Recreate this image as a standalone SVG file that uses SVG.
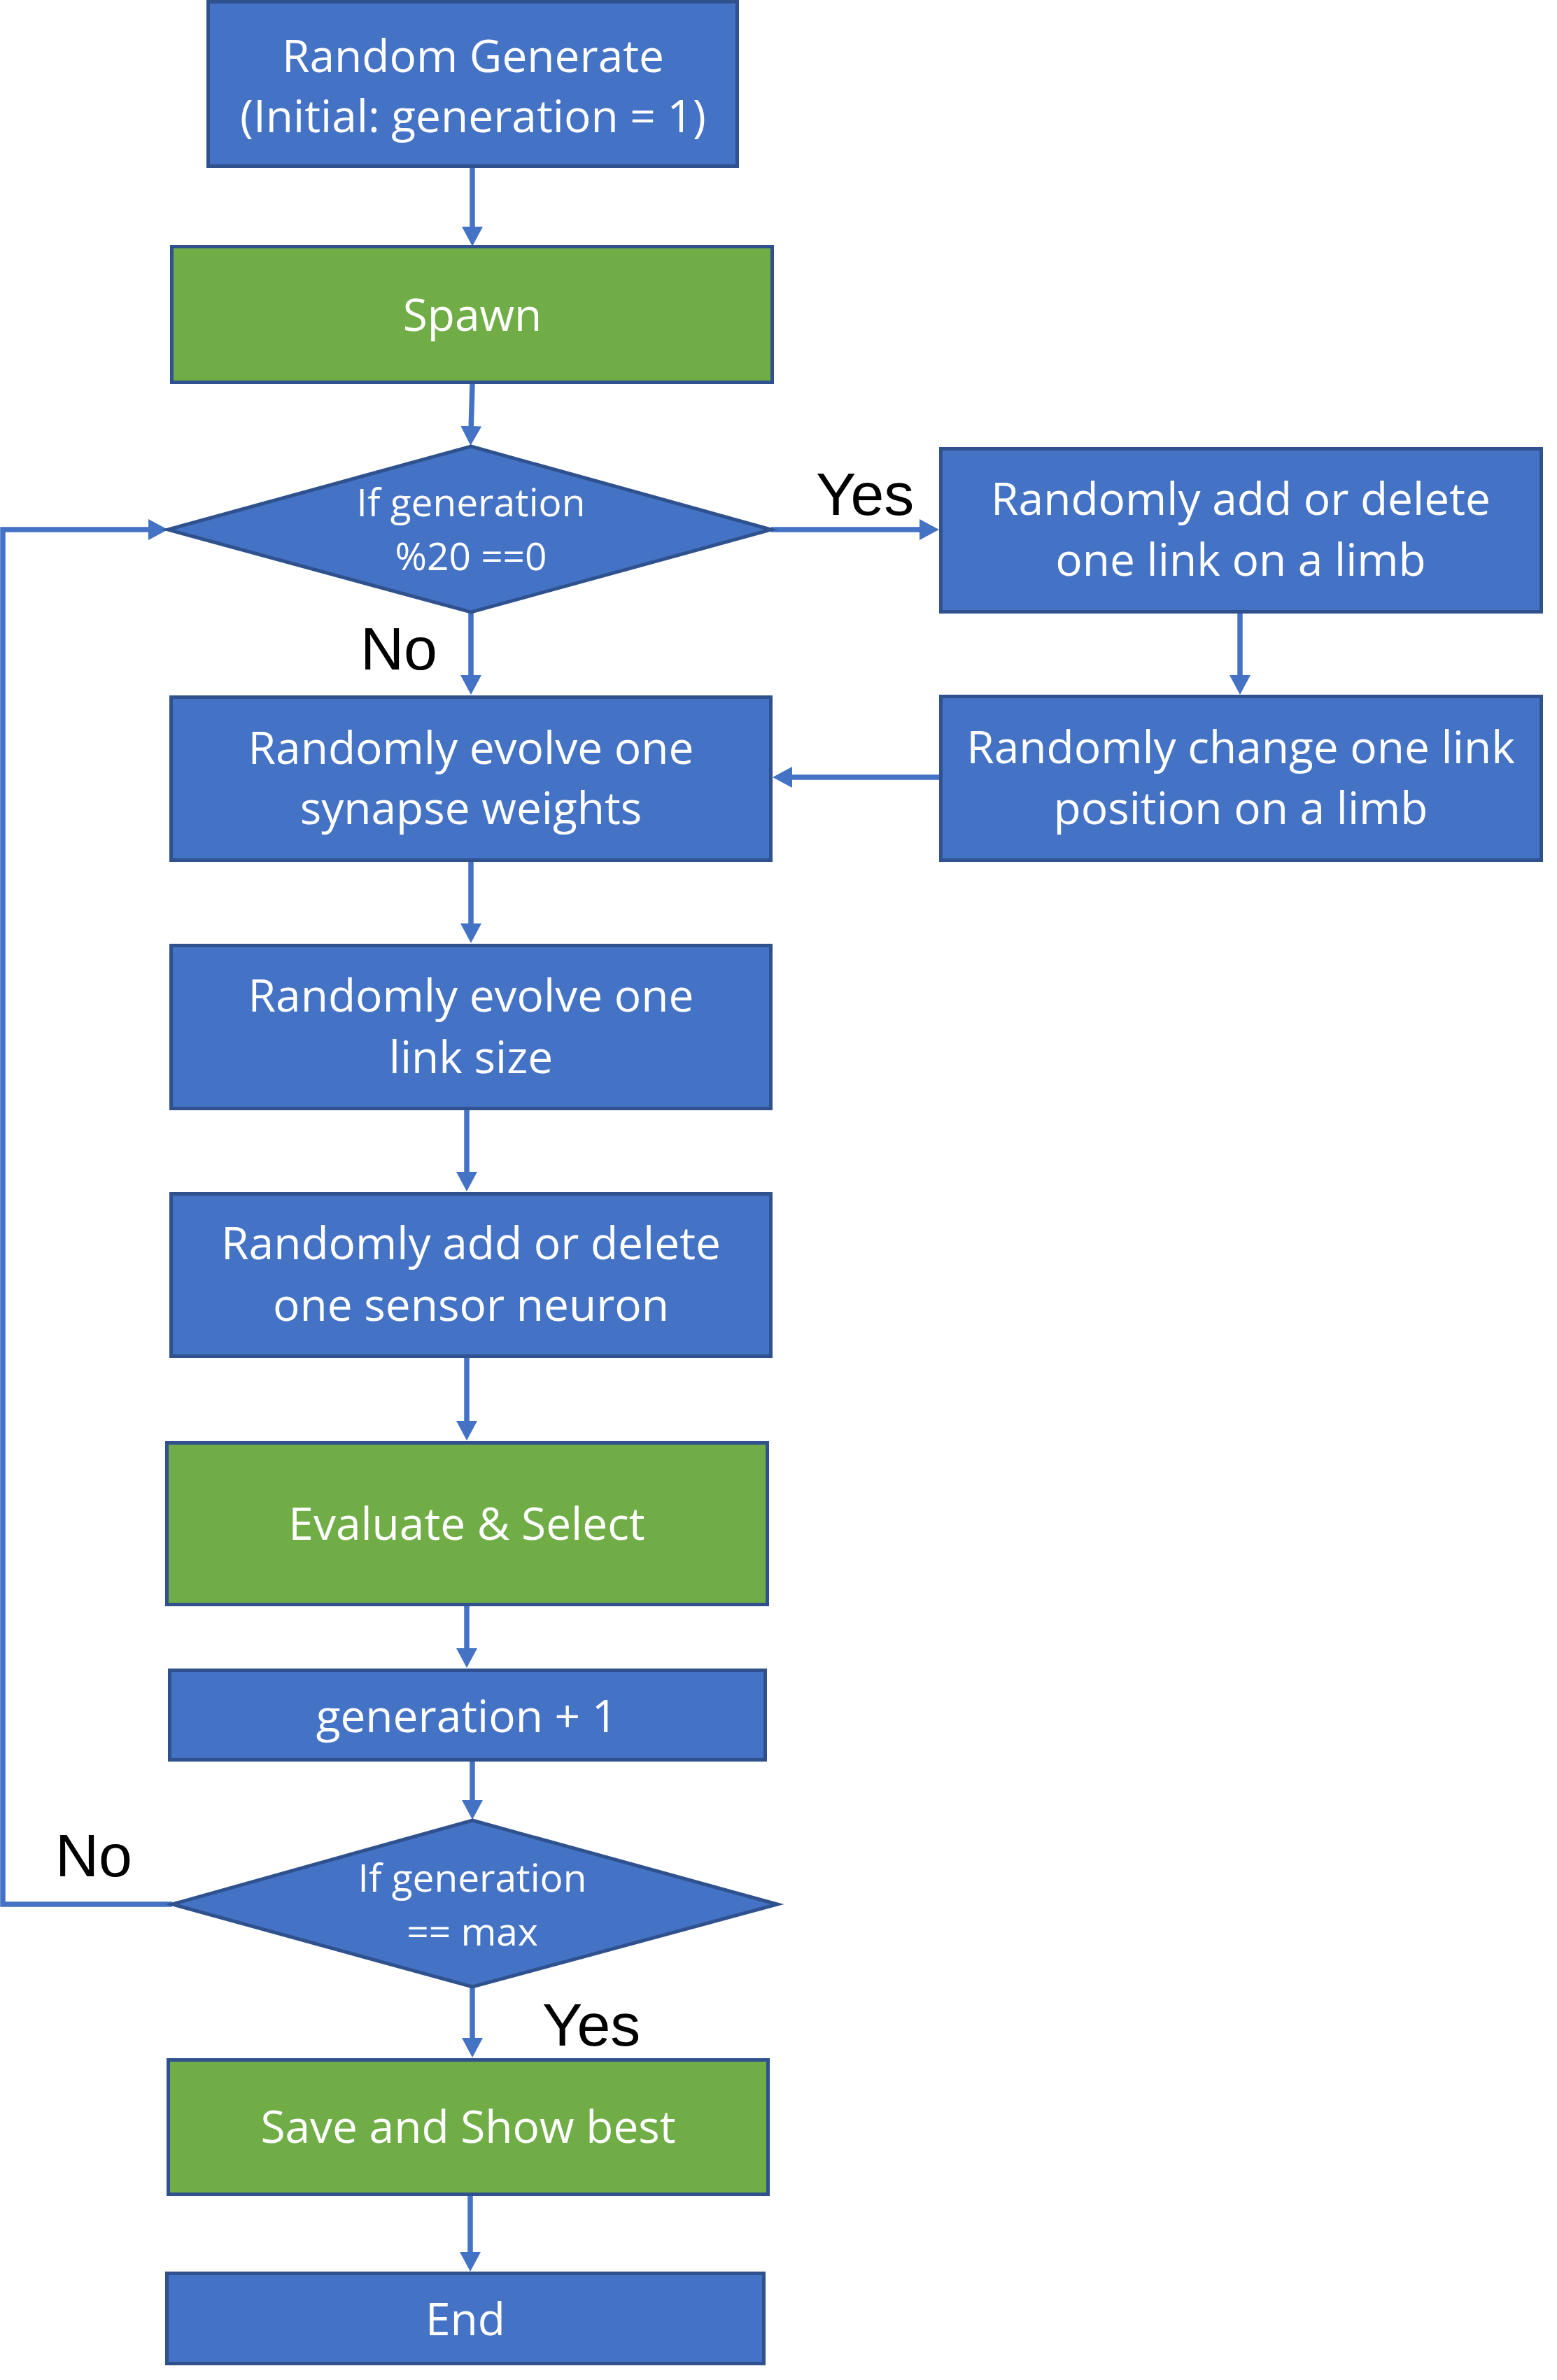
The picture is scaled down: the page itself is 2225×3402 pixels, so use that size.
<svg xmlns="http://www.w3.org/2000/svg" width="2225" height="3402" viewBox="0 0 2225 3402">
<defs>
<style>
.blue{fill:#4472C4;stroke:#2F528F;stroke-width:5}
.green{fill:#70AD47;stroke:#2F528F;stroke-width:5}
.t{font-family:"Open Sans","Noto Sans","DejaVu Sans",sans-serif;font-size:64px;fill:#FFFFFF;text-anchor:middle}
.td{font-family:"Open Sans","Noto Sans","DejaVu Sans",sans-serif;font-size:55px;fill:#FFFFFF;text-anchor:middle}
.lbl{font-family:"Liberation Sans",Arial,sans-serif;font-size:86px;fill:#000000}
.c{fill:none;stroke:#4472C4;stroke-width:7.5}
</style>
<marker id="ah" markerUnits="userSpaceOnUse" markerWidth="30" markerHeight="30" refX="8" refY="15" orient="auto">
<path d="M0,0 L28,15 L0,30 Z" fill="#4472C4"/>
</marker>
</defs>
<rect width="2225" height="3402" fill="#FFFFFF"/>

<g id="connectors">
<path class="c" d="M675,240 L675,332" marker-end="url(#ah)"/>
<path class="c" d="M675,549 L673,617" marker-end="url(#ah)"/>
<path class="c" d="M1102,757 L1322,757" marker-end="url(#ah)"/>
<path class="c" d="M1772,877 L1772,973" marker-end="url(#ah)"/>
<path class="c" d="M1342,1111 L1124,1111" marker-end="url(#ah)"/>
<path class="c" d="M673,875 L673,973" marker-end="url(#ah)"/>
<path class="c" d="M673,1232 L673,1328" marker-end="url(#ah)"/>
<path class="c" d="M667,1587 L667,1683" marker-end="url(#ah)"/>
<path class="c" d="M667,1941 L667,2039" marker-end="url(#ah)"/>
<path class="c" d="M667,2296 L667,2364" marker-end="url(#ah)"/>
<path class="c" d="M675,2518 L675,2581" marker-end="url(#ah)"/>
<path class="c" d="M675,2840 L675,2921" marker-end="url(#ah)"/>
<path class="c" d="M672,3139 L672,3227" marker-end="url(#ah)"/>
<path class="c" d="M246,2722 L4,2722 L4,757 L220,757" marker-end="url(#ah)"/>
<text class="lbl" x="1166" y="736">Yes</text>
<text class="lbl" x="515" y="957">No</text>
<text class="lbl" x="79" y="2682">No</text>
<text class="lbl" x="775" y="2924">Yes</text>
</g>

<g id="random-generate">
<rect class="blue" x="297.5" y="2.5" width="756" height="235"/>
<text class="t" x="676" y="103">Random Generate</text>
<text class="t" x="676" y="189">(Initial: generation = 1)</text>
</g>

<g id="spawn">
<rect class="green" x="245.5" y="352.5" width="858" height="194"/>
<text class="t" x="675" y="473">Spawn</text>
</g>

<g id="decision-mod20">
<polygon class="blue" points="673,638 1102,757 673,875 240,757"/>
<text class="td" x="673" y="738">If generation</text>
<text class="td" x="673" y="815">%20 ==0</text>
</g>

<g id="add-delete-link">
<rect class="blue" x="1344.5" y="641.5" width="858" height="233"/>
<text class="t" x="1773" y="736">Randomly add or delete</text>
<text class="t" x="1773" y="823">one link on a limb</text>
</g>

<g id="change-link-position">
<rect class="blue" x="1344.5" y="995.5" width="858" height="234"/>
<text class="t" x="1773" y="1091">Randomly change one link</text>
<text class="t" x="1773" y="1178">position on a limb</text>
</g>

<g id="evolve-synapse">
<rect class="blue" x="244.5" y="996.5" width="857" height="233"/>
<text class="t" x="673" y="1092">Randomly evolve one</text>
<text class="t" x="673" y="1178">synapse weights</text>
</g>

<g id="evolve-link-size">
<rect class="blue" x="244.5" y="1351.5" width="857" height="233"/>
<text class="t" x="673" y="1446">Randomly evolve one</text>
<text class="t" x="673" y="1534">link size</text>
</g>

<g id="add-delete-sensor">
<rect class="blue" x="244.5" y="1706.5" width="857" height="232"/>
<text class="t" x="673" y="1800">Randomly add or delete</text>
<text class="t" x="673" y="1888">one sensor neuron</text>
</g>

<g id="evaluate-select">
<rect class="green" x="238.5" y="2062.5" width="858" height="231"/>
<text class="t" x="667" y="2201">Evaluate &amp; Select</text>
</g>

<g id="generation-plus-one">
<rect class="blue" x="242.5" y="2387.5" width="851" height="128"/>
<text class="t" x="667" y="2476">generation + 1</text>
</g>

<g id="decision-max">
<polygon class="blue" points="675,2602 1111,2722 675,2840 246,2722"/>
<text class="td" x="675" y="2704">If generation</text>
<text class="td" x="675" y="2781">== max</text>
</g>

<g id="save-show-best">
<rect class="green" x="240.5" y="2944.5" width="857" height="192"/>
<text class="t" x="669" y="3063">Save and Show best</text>
</g>

<g id="end">
<rect class="blue" x="238.5" y="3249.5" width="853" height="129"/>
<text class="t" x="665" y="3338">End</text>
</g>
</svg>
